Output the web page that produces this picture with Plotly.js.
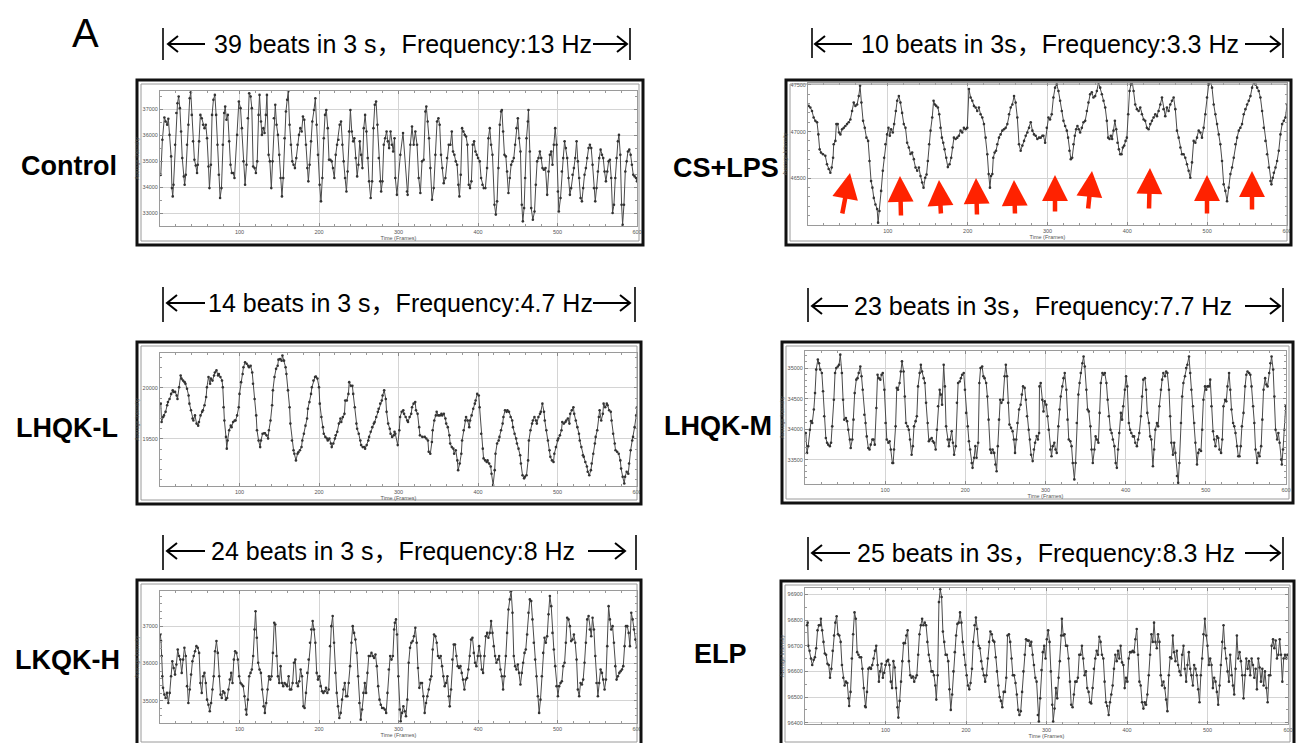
<!DOCTYPE html>
<html><head><meta charset="utf-8">
<script src="https://cdn.plot.ly/plotly-3.0.1.min.js"></script>
<style>html,body{margin:0;padding:0;background:#fff}#chart{width:1300px;height:743px}</style>
</head><body><div id="chart"></div>
<script>
// ---------- DATA (frame, average intensity) ----------
const ctrlX = [1,3,5.5,7,9,10.5,12,14,15,16,17,19,20.6,22,23.5,25,26.5,28,30,31,32.4,34,35.7,37.4,38.7,40,41.6,43.3,45,46.6,47.5,49.2,50.8,52.5,54.2,56,57.6,59.2,61,62.2,64,65.5,67.2,69,70.6,72.3,74,75.6,77.3,79,80.7,82,83.6,85.3,87,88.7,90.3,92,93.7,97,99.2,101.3,103,105,107,108.8,110.5,112.2,114,115.5,117.2,119,120.6,122.3,124,125.2,127,128.2,130,131.5,133.2,134.5,136.6,138.2,140,141.6,143.3,145,146.6,148.3,150,151.7,153.4,155,156.7,158.4,160,161.3,163,164.7,166.4,168,169.7,171.4,173,174.8,176.5,178.2,179.8,181.5,183.6,185.3,186.6,188.2,190,191.6,193.7,195.4,197,198.7,200.8,202.5,204.2,206,207.6,209.2,211,212.6,214.3,216,217.6,219.3,221,222.7,224.4,226,227.7,229.4,231,232.8,234.5,236,237.8,239.5,241.2,243,244.5,246.2,248,249.6,251.3,253,254.6,256.3,258,259.7,261.3,263,265,266.8,268.5,270.2,271.8,273.5,275.2,277,278.2,279.8,281.5,283.2,285,286.6,288.2,290,291.6,293.3,295,
296,298,302.3,305.7,310.7,311.5,314.9,317,319.1,321.2,323.3,325.4,327.5,329.6,331.7,333.8,335,336.7,338.4,340.1,342.2,344.3,346.4,348.5,350.2,351.8,353.5,355.2,356.9,359,361.1,363.2,365.3,367,368.6,370.3,372,373.7,375.3,376.6,378.3,380,381.6,383.3,385,386.7,388.4,390,391.7,393.4,395.1,396.8,398.4,400.1,402.2,403.9,405.6,407.2,409.3,411.4,413.1,414.8,416.5,418.2,420.7,422.4,424,425.7,427.4,429.1,430,431.6,433.3,435,436.6,438.3,440,441.7,443.4,445,446.7,448.4,450.1,451.7,453.4,455.1,456.4,458,459.3,461,462.7,463.5,465.2,466.9,469,471.1,472.7,474.4,476.1,477.8,479.5,481.1,482.8,484.9,487,488.7,490.4,492.1,493.7,495.4,497.1,498.8,500.5,501.7,503.8,505.5,507.2,508.9,510.5,512.2,513.9,515.6,517.2,518.9,520.6,522.3,524,525.6,527.3,529,530.7,532.3,534,535.7,537.4,539.1,540.7,542.4,544.1,545.8,547.5,549.1,550.8,552.5,554.2,555.9,557.5,559.2,560.9,562.6,564.3,565.9,567.6,569.3,571,572.7,574.3,576,577.3,579,580.6,581.9,583.6,585.3,587,588.6,590.3,592,593.6,595.3,597,598.7,600];
const ctrlY = [34470,35820,36680,36525,36400,36630,36010,35180,33960,33640,34090,35630,36850,37230,37490,37040,36140,35115,34410,34090,34475,35630,36400,37420,37650,36780,35760,35050,34830,34540,34860,35760,36780,36650,36400,36270,36400,35880,34790,33960,34860,36780,37360,37550,36780,35630,34475,33580,33960,35630,36850,37100,36590,36780,35760,34860,34540,34540,34350,36010,37295,37040,36270,34990,34090,34860,36650,37615,37490,37040,34790,34730,34540,34990,36780,37550,36525,36010,36270,36080,36780,37550,35240,34990,33960,34990,36650,37170,36400,36010,35240,34350,33640,34350,35880,36910,37360,37680,36400,35630,34990,34860,34730,35115,35630,36010,36270,36140,36720,36590,35630,34730,34220,34860,35760,36525,36970,37420,36400,35240,34090,33450,34350,35880,36780,36970,36270,35050,35050,34990,34730,34350,35240,35630,35820,36400,36525,35630,34990,34350,33830,34600,36140,36970,36140,35760,35880,35115,34410,34860,35760,35240,34730,36270,36780,36140,35115,34220,33580,34220,36270,37170,37295,36400,35115,34220,33830,34220,35630,35880,36140,35760,35500,36140,35630,35370,35880,
34350,33700,35240,36080,33830,33700,35630,36330,35630,36140,35630,34350,33770,34990,35050,36910,37100,36525,35880,34730,33510,33960,35240,36525,36650,36400,35240,34730,34150,34350,35115,35630,35630,36140,35370,35240,34990,34860,34090,33640,34475,36270,36140,36010,35950,35630,34090,33960,34220,35630,35760,35370,35240,35115,34990,34350,34090,33960,33960,34730,35880,36270,35630,35240,33320,32940,33450,34730,36400,36910,36970,36140,35240,35180,34600,33770,34350,34860,34990,35115,35630,36270,36650,35880,35370,33320,32680,33190,34350,35880,36525,36970,35370,33190,32740,33060,34090,34990,35115,35370,35115,34730,34670,34730,33700,34600,35240,35370,34860,35630,36270,35630,33830,33060,33580,34600,35115,35760,35500,35115,34350,33700,33960,34475,34730,35115,35760,34990,34350,33580,33450,33960,34475,34730,35115,35500,35630,35500,34860,33960,33450,33960,34600,35115,35440,35240,35115,34600,34220,34600,34990,35050,34350,33000,33320,34350,35115,35760,36010,35240,33320,32550,33320,34600,34990,35370,35440,35240,34860,34475,34410,34350,34220];

const lpsX = [0.8,2.9,5,7.1,9.2,11.3,13,14.6,16.3,18.8,21.7,23.8,25.9,28,29.7,31.4,32.2,34.3,35.5,37.2,38.9,40.6,42.7,44.8,46.8,48.9,51,53.1,55.2,57.3,59.4,61.5,63.6,65.2,66.9,69,71.1,73.2,75.3,77,79,80.7,82.4,84.5,86.6,87.8,89.5,91.6,93.7,95.4,97,99.1,100.8,102.5,104.1,106.2,107.9,110,111.7,113.8,115.8,117.9,120,122.1,124.2,126.3,128.4,130.5,132.6,134.7,136.8,138.9,140.9,143,144.7,146.8,148.5,150.1,151.8,153.5,155.6,157.3,158.9,160.6,162.7,164.4,166,167.7,169.4,171.1,173.2,175.2,177.3,179.4,181.1,182.8,184.9,187,189,191.1,193.2,195.3,197.4,199.5,201.6,203.7,205.8,207.9,210,212,214.1,216.2,218.3,220.4,222.5,224.6,226.3,227.9,229.2,230.9,232.1,233.8,235.5,237.1,239.2,241.3,243.4,245.5,247.6,249.7,251.8,253.9,256,258.1,260.1,262.2,264.3,266.4,268.5,270.6,272.7,274.8,276.9,279,281.1,283.1,285.2,287.3,289.4,291.5,293.6,
294.9,297,299.1,301.2,303.2,305.3,307.4,309.5,311.6,313.7,315.8,317.9,320,322.1,324.2,325.8,327.5,329.2,330.9,332.5,334.2,335.9,337.5,339.2,340.9,343,345.1,347.2,349.3,351.3,353.4,355.5,357.6,359.7,361.8,363.9,366,368.1,370.2,372.3,374.3,376,377.7,379.4,381,382.7,384.4,386.1,387.7,389.4,391.1,392.7,394.4,396.1,397.8,399.4,401.1,402.8,404.5,406.1,407.8,409.9,412,414.1,416.2,418.3,420.4,422.4,424.5,426.6,428.7,430.8,432.9,435,437.1,439.2,441.3,443.4,445.4,447.5,449.6,451.7,453.8,455.9,458,460.1,462.2,464.3,466.4,468.4,470.5,472.6,474.7,476.8,478.9,481,483.1,485.2,487.3,489.4,491.5,493.5,495.6,497.7,499.8,501.9,504,506.1,508.2,510.3,512.4,514.5,516.5,518.6,520.7,522.8,524.9,527,529.1,531.2,533.3,535.4,537.5,539.6,541.6,543.7,545.8,547.9,550,552.1,554.2,556.3,558.4,560.5,562.6,564.6,566.7,568.8,570.9,573,575.1,577.2,579.3,580.5,582.2,583.5,585.6,587.6,589.7,591.8,593.9,596,598.1,600];
const lpsY = [47275,47257,47220,47150,47115,47100,46970,46810,46775,46757,46740,46650,46600,46560,46615,46720,46865,46900,47080,47080,46990,46970,47025,47040,47060,47080,47100,47130,47220,47310,47275,47290,47380,47490,47310,47115,47040,46935,46900,46685,46470,46400,46290,46220,46170,46025,46150,46365,46580,46720,46865,46970,47040,46955,47025,46990,47080,47220,47330,47380,47310,47200,47080,47040,46880,46830,46760,46775,46705,46615,46580,46615,46525,46455,46400,46505,46540,46685,46865,47010,47150,47330,47290,47275,47257,47185,47040,46935,46880,46810,46720,46620,46650,46720,46830,46935,46920,46935,46955,47010,46990,47040,47025,47040,47455,47365,47330,47275,47257,47220,47257,47185,47150,47080,46935,46757,46545,46400,46525,46545,46720,46775,46795,46865,46935,46970,47010,47025,47040,47080,47185,47257,47290,47380,47310,47150,46865,46795,46850,46900,46955,46990,47040,47100,47010,46970,46955,46920,46935,46935,46955,
46955,46880,47040,47150,47130,47185,47365,47470,47505,47435,47330,47220,47115,47060,47010,46935,46795,46705,46720,46865,46955,47025,47060,47025,46990,47040,47100,47115,47220,47310,47400,47420,47365,47380,47435,47525,47470,47400,47330,47257,47115,46935,46920,46955,46920,47010,47115,47025,46880,46810,46757,46757,46830,46850,46900,46935,47185,47435,47505,47535,47435,47290,47240,47220,47257,47185,47130,47115,47040,47025,47080,47115,47150,47185,47165,47220,47290,47365,47240,47165,47257,47220,47290,47330,47365,47240,47010,46935,46830,46757,46757,46720,46650,46580,46505,46670,46900,46880,46935,47010,46990,46935,47040,47185,47365,47505,47540,47470,47290,47185,47080,46970,46865,46685,46435,46365,46255,46400,46545,46615,46720,46865,46935,47010,47040,47080,47185,47240,47290,47330,47380,47470,47535,47505,47470,47435,47365,47220,47040,46900,46757,46615,46470,46435,46505,46560,46615,46685,46795,46970,47080,47115,47150,47290];

const lowX = [1,2,4,5,7,9,10,12,14,16,17,19,21,22,24,26,27,29,31,32,34,36,37,39,41,42,44,46,48,49,51,53,54,56,58,59,61,63,64,66,68,69,71,73,74,76,78,79,80,81,83,84,85,87,89,90,92,94,95,97,99,100,102,104,105,107,109,111,112,114,116,117,119,121,122,124,126,127,129,131,132,134,136,137,139,141,142,144,146,148,149,151,153,154,156,158,159,161,163,164,166,168,169,171,173,174,176,178,179,181,183,185,186,188,190,191,193,195,196,198,200,201,203,205,206,208,210,211,213,215,216,218,220,221,223,225,227,228,230,232,233,235,237,238,240,242,243,245,247,248,250,252,253,255,257,258,260,262,263,265,267,269,270,272,274,275,277,279,280,282,284,285,287,289,290,292,294,295,
296,299,301,302,304,306,307,309,311,312,314,316,317,319,321,322,324,326,327,330,333,335,337,338,340,342,343,345,347,348,350,352,354,355,357,359,360,362,364,365,367,369,370,372,374,375,377,379,380,382,384,385,387,389,390,392,394,396,397,399,401,402,404,406,407,409,411,412,414,416,417,419,421,422,424,426,427,429,431,432,434,436,437,439,441,443,444,446,448,449,451,453,454,456,458,459,461,463,464,466,468,469,471,473,474,476,478,479,481,483,484,486,488,490,491,493,495,496,498,500,501,503,505,506,508,510,511,513,515,516,518,520,521,523,525,527,528,530,532,533,535,537,538,540,542,543,545,547,548,550,552,553,555,557,558,560,562,563,565,567,568,570,572,573,575,577,579,580,582,584,585,587,589,590,592,594,595,597,599,600];
const lowY = [19845,19665,19715,19730,19765,19830,19860,19890,19940,19975,19960,19960,19925,19890,20005,20120,20090,20070,20055,20040,19990,19925,19845,19780,19700,19680,19730,19650,19630,19665,19730,19765,19780,19830,19910,20005,20105,20040,20090,20070,20120,20150,20170,20120,20135,20105,20070,20005,19810,19680,19520,19405,19485,19585,19630,19615,19665,19680,19680,19730,19810,19940,20055,20135,20200,20250,20235,20215,20200,20215,20150,20040,19890,19730,19585,19485,19420,19485,19550,19555,19555,19535,19505,19585,19680,19830,19975,20105,20185,20215,20275,20280,20265,20315,20265,20200,20135,19975,19810,19650,19485,19390,19355,19290,19355,19370,19390,19420,19485,19550,19630,19700,19795,19860,19940,20005,20070,20105,20110,20090,20005,19845,19715,19615,19550,19520,19505,19485,19505,19455,19420,19455,19505,19535,19570,19650,19700,19665,19715,19745,19875,19875,19940,20055,20020,20020,19940,19810,19650,19600,19550,19485,19440,19420,19420,19405,19440,19485,19520,19570,19615,19650,19665,19715,19765,19795,19845,19875,19925,19975,19890,19765,19650,19600,19550,19520,19535,19570,
19550,19440,19585,19715,19765,19780,19745,19715,19680,19665,19715,19745,19810,19845,19860,19780,19745,19615,19535,19520,19520,19505,19485,19375,19355,19470,19585,19680,19730,19765,19730,19730,19745,19730,19745,19700,19650,19615,19535,19455,19420,19405,19355,19390,19290,19195,19260,19355,19485,19585,19680,19715,19680,19615,19680,19730,19795,19845,19875,19940,19925,19810,19550,19405,19310,19290,19275,19290,19260,19230,19160,19050,19195,19355,19455,19485,19520,19585,19650,19715,19780,19765,19780,19765,19715,19680,19615,19550,19505,19455,19405,19340,19260,19145,19115,19130,19145,19290,19485,19585,19650,19680,19715,19680,19650,19715,19745,19765,19845,19765,19680,19585,19485,19390,19325,19290,19275,19355,19420,19485,19505,19535,19585,19665,19650,19665,19680,19700,19650,19745,19780,19810,19745,19680,19615,19550,19485,19420,19340,19325,19275,19230,19180,19145,19195,19260,19355,19455,19520,19585,19715,19780,19680,19745,19845,19810,19845,19830,19780,19765,19680,19550,19455,19390,19375,19355,19290,19210,19130,19065,19130,19180,19160,19260,19390,19485,19520,19615,19730,19810];

const midX = [1,2.5,4,6,7.5,9,11,12.5,14,16,17.5,19,21,22.5,24,26,27.5,29,31,32.5,34,36,37.5,39,41,42.5,44,46,47.5,49,51,52.5,54,56,57,59,60.5,62,64,65.5,67,69,70.5,72,74,75.5,77,79,80.5,82,84,85.5,87,89,90.5,92,94,95.5,97,99,100.5,102,104,105.5,107,109,110,111,113,114.5,116,118,119.5,121,123,124.5,126,128,129.5,131,133,134.5,136,138,139.5,141,143,144.5,146,148,149.5,151,153,154.5,156,158,159.5,161,163,164.5,166,168,169.5,171,173,174.5,176,178,179.5,181,183,184.5,186,188,189.5,191,193,194.5,196,198,199.5,201,203,204.5,206,208,209,211,212.5,214,216,217.5,219,221,222.5,224,226,227.5,229,231,232.5,234,236,237.5,239,240.5,242,243.5,245,247,249,250.5,252,253.5,255,257,259,260.5,262,263.5,265,267,269,270.5,272,274,275.5,277,279,280.5,282,284,285.5,287,289,290.5,292,
292.5,294,296,297.5,299,301,302.5,304,306,307.5,309,311,312.5,314,316,317.5,319,321,322.5,324,326,327.5,329,331,332.5,334,336,337.5,339,341,342.5,344,346,347.5,349,351,352.5,354,356,357.5,359,361,362.5,364,366,367.5,369,371,372.5,374,376,377.5,379,381,382.5,384,386,387.5,389,390.5,392,394,395.5,397,399,400.5,402,404,405.5,407,409,410.5,412,414,415.5,417,419,420.5,422,424,425.5,427,429,430.5,432,434,435.5,437,439,440.5,442,444,445.5,447,449,450.5,452,454,455.5,457,459,460.5,462,464,465.5,467,469,470.5,472,474,475.5,477,479,480.5,482,484,485.5,487,489,490.5,492,494,495.5,497,499,500.5,502,504,505.5,507,509,510.5,512,514,515.5,517,519,520.5,522,524,525.5,527,529,530.5,532,534,535.5,537,539,540.5,542,543.5,545,547,549,550.5,552,554,555.5,557,559,560.5,562,564,565.5,567,569,570.5,572,574,575.5,577,579,580.5,582,584,585.5,587,589,590.5,592,594,594.8,596.3,598,599.6];
const midY = [33937,33610,33720,33990,34130,34100,34320,34590,34975,35140,35080,34975,34920,34620,34210,33855,33775,33745,33720,33775,34045,34480,34920,35000,35025,35055,35220,34920,34480,34155,34180,34130,33990,33830,33690,33830,34155,34590,34810,34835,34920,35025,34865,34645,34235,34100,33880,33690,33665,33745,33830,33830,33745,34345,34890,34835,34810,34890,34920,34645,34100,33830,33775,33800,33665,33445,33445,33665,34045,34675,34645,34755,34945,35110,34945,34535,34100,34045,33990,33830,33580,33720,34045,34130,34210,34700,34920,35055,34945,34835,34755,34430,34100,33800,33830,33855,33800,33775,33665,33990,34375,34645,34565,34400,35055,34700,34045,33830,33720,33830,33965,33775,33580,33720,34430,34755,34780,34835,34890,34920,34645,34265,34045,33800,33665,33445,33365,33530,33720,33530,33775,34755,35000,35025,34865,34835,34755,34535,34155,33665,33610,33665,33610,33420,33310,33720,34155,34480,34430,34480,34865,35055,34865,34430,34075,34020,33965,33830,33610,33830,34100,34320,34400,34565,34700,34675,34480,34210,33990,33830,33580,33475,33665,33775,33885,33830,33937,
34700,34755,34480,34290,34455,34400,34210,33990,33665,33555,33720,33775,33665,33610,34045,34320,34535,34700,34835,34920,34645,34155,33830,33800,33720,33445,33175,33445,34100,34565,34755,34920,35080,35190,35025,34645,34320,34290,34045,33665,33445,33665,33880,33830,33775,34265,34755,34920,34890,34920,34755,34480,34210,33990,33937,33830,33720,33445,33365,33665,33937,34265,34155,34375,34645,34865,34700,34100,33990,33937,33880,33880,33775,33720,33830,33937,34210,34535,34810,34835,34645,34265,34100,33880,33830,33390,33665,33990,34100,34045,34375,34645,34810,34920,34865,34945,34920,34645,34210,33775,33580,33775,33610,33230,33120,33445,34100,34535,34755,34865,35000,35055,35190,34920,34645,34375,34100,33775,33420,33610,33665,33640,33990,34480,34700,34645,34700,34700,34810,34375,33965,33830,33720,33880,33855,33665,33610,33830,34375,34480,34455,34700,34920,34645,34320,34100,34045,33937,33720,33555,33555,33720,34045,34265,34700,34890,34945,34920,34890,34700,34375,34100,33665,33445,33610,33555,33720,34155,34645,34835,34730,34700,34920,35080,35190,34975,34535,33990,33830,33937,33775,33500,33420,33665,33990,34375];

const highX = [0.4,1.3,2.1,2.9,3.8,5.5,7.1,8.8,10.5,12.2,13.9,15.5,17.2,18.9,20.6,22.3,23.9,25.6,27.3,29,30.7,32.4,34,35.7,37.4,39.1,40.8,42.4,44.1,45.8,47.5,49.2,50.8,52.5,54.2,55.9,57.6,59.2,60.9,62.6,64.3,66,67.6,69.3,71,72.7,74.4,76.1,77.7,79.4,81.1,82.8,84.5,86.1,87.8,89.5,91.2,92.9,94.5,96.2,97.9,99.6,101.3,102.9,104.6,106.3,108,108.8,110.5,112.2,113.9,115.5,117.2,118.9,120.2,121.8,123.5,125.2,126.9,128.6,130.3,131.9,133.6,135.3,137,138.7,140.3,142,143.7,145,146.6,148.3,150,151.7,153.4,155,156.7,158.4,160.1,161.8,163.4,165.1,166.8,168.5,170.2,171.8,173.5,175.2,176.9,178.6,180.3,181.9,183.6,185.3,187,188.7,190.3,192,193.7,195.4,197.1,198.7,200.4,202.1,203.8,205.5,207.1,208.8,210.5,212.2,213.9,215.5,217.2,218.9,220.6,222.3,223.9,225.6,227.3,229,230.7,232.4,234,235.7,237.4,239.1,240.8,242.4,244.1,245.8,247.5,249.2,250.8,252.5,254.2,255.9,257.6,259.2,260.9,262.6,264.3,266,267.6,269.3,271,272.7,274.4,276.1,277.7,279.4,281.1,282.8,284.5,286.1,287.8,289.5,291.2,292.9,294.5,295.4,
296.8,298.1,299.8,301.5,302.7,304.4,306.1,307.8,309.4,311.1,312.8,314.5,316.1,317.8,319.5,321.2,322.9,324.5,326.2,327.9,329.6,331.3,332.9,334.6,336.3,338,339.7,341.3,343,344.7,346.4,348.1,349.7,351.4,353.1,354.8,356.5,358.1,359.8,361.5,363.2,364.4,366.1,367.8,369.5,371.1,372.8,374.5,376.2,377.9,379.5,381.2,382.9,384.6,386.3,387.9,389.6,391.3,393,394.7,396.3,398,399.7,401.4,403.1,404.7,406.4,408.1,409.8,411.5,413.1,414.8,416.5,418.2,419.8,421.5,423.2,424.9,426.6,428.2,429.9,431.6,433.3,435,436.6,438.3,440,441.7,443.4,445,446.7,448.4,450.1,451.7,453.4,455.1,456.8,458.5,460.1,461.8,463.5,465.2,466.9,468.5,470.2,471.9,473.6,475.3,476.9,478.6,480.3,482,483.7,485.3,487,488.7,490.4,492.1,493.7,495.4,497.1,498.8,500.5,502.1,503.8,505.5,507.2,508.9,510.5,512.2,513.9,515.6,517.2,518.9,520.6,522.3,524,525.6,527.3,529,530.7,532.3,534,535.7,537.4,539.1,540.7,542.4,544.1,545.8,547.5,549.1,550.8,552.5,554.2,555.9,557.5,559.2,560.9,562.6,564.3,565.9,567.6,569.3,571,572.7,574.3,576,577.7,579.4,581.1,582.7,584.4,586.1,587.8,589.5,591.1,592.8,594.5,596.2,597.9,599.5];
const highY = [36775,36600,36200,35660,35350,35170,35080,35215,34945,35215,35660,36060,35880,35705,35975,36375,36200,36105,35750,36105,36420,36200,35395,34945,35305,35705,36060,36200,36330,36465,36420,36285,35480,35215,35660,35750,35480,35035,34900,34725,34945,35305,35660,36330,36600,36285,35660,35170,35080,35260,35215,35035,35080,35305,35570,35750,35480,36105,36330,36285,36105,35660,35480,35440,35395,35125,34770,34635,35035,35660,35750,35840,36200,36910,37400,36690,36020,35840,35750,35305,34855,34680,34945,35305,35660,35570,35660,36285,37090,37045,36200,35660,35480,35930,35480,35395,35480,35440,35395,35660,35305,35305,35480,36020,36105,35480,35395,35525,35840,35660,34855,34810,35215,35750,36105,36555,36910,37135,36910,36555,35750,35570,35660,35395,35260,35215,35260,35350,35215,35305,36465,37000,37270,36555,35750,35215,34855,34545,34680,35035,35305,35480,35125,35125,35480,35930,36555,37000,36820,36640,36285,35660,34945,34500,34770,35215,35480,35215,35750,36200,36200,36285,36200,36150,36240,35930,35395,35035,34900,34810,34810,34770,34680,35215,35840,36200,36105,36200,36910,37090,
37180,36775,35660,34770,34455,34680,34855,34725,34590,35035,36020,36420,36555,36600,36730,36955,36555,35880,35350,35480,35480,35125,34680,34945,35125,35305,35570,35660,36375,36775,36730,36555,36200,36150,36200,35930,35660,35395,35480,35660,35125,34855,35305,36105,36510,36510,36200,35930,35880,35930,35750,35570,35305,35570,35615,35840,36200,36640,36690,36285,36020,35930,36200,36465,36200,35840,35750,36200,36730,36820,36690,36820,37135,36820,36465,36200,36020,36105,36200,35840,35660,35305,35660,36200,36820,37445,37715,37940,37360,36200,35930,35840,35975,35750,35440,35750,36020,36285,36375,36775,37360,37715,37670,37180,36555,36105,35660,35125,34680,35035,35660,36285,36690,36555,36730,37315,37805,37535,36820,36375,35930,35395,35125,35395,35480,35525,35930,36020,36555,37225,37180,37000,36600,36640,36775,36555,36105,35305,35125,35480,35440,35570,36020,36555,37180,37270,36910,36730,37225,36910,36200,35480,35125,35480,35840,35750,35570,35305,35570,36465,37535,37180,36910,37000,36555,35930,35570,35660,35750,35795,35840,35930,36465,37000,37000,36820,36465,37360,37180,36910,36640,36420];

const elpX = [2.5,3.3,4.1,5.7,7.4,9,10.7,12.3,13.9,15.6,17.2,18.9,19.7,21.3,23,24.6,26.2,27.9,29.5,31.1,32.8,34.4,36.1,37.7,39.3,41,42.6,44.3,45.9,47.5,49.2,50.8,52.5,54.1,54.9,56.6,58.2,59.8,61.5,63.1,64.8,66.4,68,69.7,71.3,73,74.6,75.4,77,78.7,80.3,82,83.6,85.2,86.9,88.5,90.2,91.8,93.4,95.1,96.7,98.4,100,101.6,103.3,104.9,106.6,108.2,109.8,111.5,113.1,114.8,116,117.6,119.3,120.9,122.5,124.2,125.8,127.5,129.1,130.7,132.4,134,135.7,137.3,138.9,140.6,142.2,143.9,145.5,147.1,148.8,150.4,152,153.7,155.3,157,158.6,160.2,161.9,163.1,164.8,166.4,168,169.7,171.3,173,174.6,176.2,177.9,179.5,181.1,182.8,184.4,186.1,187.7,189.3,191,192.6,194.3,195.9,197.5,199.2,200.8,202.5,204.1,205.7,207.4,209,210.7,212.3,213.9,215.6,217.2,218.9,220.5,222.1,223.8,225.4,227,228.7,230.3,232,233.6,235.2,236.9,238.5,240.2,241.8,243.4,245.1,246.7,248.4,250,251.6,253.3,254.9,256.6,258.2,259.8,261.5,263.1,264.8,266.4,268,269.7,271.3,273,274.6,276.2,277.9,279.5,281.1,282.8,284.4,286.1,287.7,289.3,
290.5,292.1,293.8,295.5,297.1,298.8,300.4,302.1,303.8,305.4,307.1,308.3,310,311.6,313.3,315,316.6,318.3,319.1,320.8,322.4,324.1,325.7,327.4,329.1,330.7,332.4,334,335.7,337.4,339,340.7,342.3,344,345.7,347.3,349,350.6,352.3,354,355.6,357.3,358.9,360.6,362.3,363.9,365.6,367.2,368.9,370.6,372.2,373.9,375.5,377.2,378.9,380.5,382.2,383.8,385.5,387.2,388.8,390.5,392.1,393.8,395.5,397.1,398.8,400.4,402.1,403.8,405.4,407.1,408.7,410.4,412.1,413.7,415.4,417,418.7,420.4,422,423.7,425.3,427,428.7,430.3,432,433.6,435.3,437,438.6,440.3,441.9,443.6,445.3,446.9,448.6,450.2,451.9,453.6,455.2,456.9,458.5,460.2,461.9,463.5,465.2,466.8,468.5,470.2,471.8,473.5,475.1,476.8,478.5,480.1,481.8,483.4,485.1,486.7,488.4,490.1,491.7,493.4,495,496.7,498.4,500,501.7,503.3,505,506.7,508.3,510,511.6,513.3,515,516.6,518.3,519.9,521.6,523.3,524.9,526.6,528.2,529.9,531.6,533.2,534.9,536.5,538.2,539.9,541.5,543.2,544.8,546.5,548.2,549.8,551.5,553.1,554.8,556.5,558.1,559.8,561.4,563.1,564.8,566.4,568.1,569.7,571.4,573.1,574.7,576.4,578,579.7,581.4,583,584.7,586.3,588,589.7,591.3,593,594.6,596.3,598,599.2];
const elpY = [96780,96790,96700,96680,96650,96625,96645,96655,96690,96760,96780,96780,96805,96760,96715,96670,96665,96630,96625,96575,96610,96680,96740,96790,96815,96745,96740,96715,96625,96575,96545,96560,96555,96495,96465,96520,96650,96745,96830,96805,96675,96665,96655,96655,96610,96535,96465,96460,96520,96610,96615,96610,96625,96650,96680,96700,96625,96560,96600,96630,96575,96595,96625,96640,96645,96625,96560,96535,96640,96615,96535,96460,96420,96485,96560,96640,96710,96710,96740,96760,96640,96585,96575,96580,96560,96575,96585,96665,96745,96780,96805,96780,96790,96780,96715,96665,96640,96600,96600,96585,96545,96490,96585,96870,96920,96890,96755,96715,96665,96665,96640,96530,96450,96510,96600,96675,96740,96785,96790,96830,96790,96715,96665,96625,96585,96545,96530,96555,96610,96715,96780,96810,96765,96700,96690,96640,96610,96585,96560,96585,96650,96715,96755,96745,96720,96715,96655,96600,96545,96500,96485,96460,96520,96520,96575,96740,96745,96715,96650,96585,96585,96555,96510,96450,96430,96445,96520,96600,96665,96725,96720,96720,96700,96715,96665,96625,96575,96560,96430,
96405,96495,96605,96675,96700,96650,96725,96760,96715,96600,96470,96405,96455,96535,96495,96575,96640,96740,96805,96740,96745,96700,96700,96650,96560,96470,96460,96510,96560,96560,96575,96665,96665,96700,96650,96585,96600,96535,96520,96480,96475,96535,96610,96650,96680,96665,96735,96715,96665,96650,96560,96480,96465,96430,96480,96510,96545,96610,96665,96640,96680,96650,96700,96635,96625,96535,96575,96560,96650,96675,96675,96680,96675,96725,96765,96665,96560,96545,96480,96455,96480,96470,96510,96585,96665,96745,96715,96790,96715,96690,96745,96715,96585,96545,96560,96535,96490,96445,96585,96655,96650,96740,96675,96640,96680,96625,96600,96585,96665,96700,96610,96560,96625,96675,96610,96585,96545,96625,96610,96585,96530,96480,96585,96650,96745,96805,96740,96700,96625,96650,96625,96535,96575,96560,96520,96470,96545,96625,96715,96780,96690,96650,96600,96560,96665,96585,96545,96510,96610,96740,96650,96675,96640,96585,96495,96585,96650,96610,96640,96585,96650,96625,96575,96610,96530,96650,96615,96560,96610,96545,96600,96535,96480,96585,96585,96700,96725,96690,96720,96650,96665,96725,96665,96560,96650,96665,96650,96665];

const groupNames = ['Control','CS+LPS','LHQK-L','LHQK-M','LKQK-H','ELP'];
const beatTexts = ['39 beats in 3 s，Frequency:13 Hz','10 beats in 3s，Frequency:3.3 Hz','14 beats in 3 s，Frequency:4.7 Hz','23 beats in 3s，Frequency:7.7 Hz','24 beats in 3 s，Frequency:8 Hz','25 beats in 3s，Frequency:8.3 Hz'];
const xTicks = [100,200,300,400,500,600];
const yTicks = [[33000,34000,35000,36000,37000],[46500,47000,47500],[19500,20000],[33500,34000,34500,35000],[35000,36000,37000],[96400,96500,96600,96700,96800,96900]];
const series = [[ctrlX,ctrlY],[lpsX,lpsY],[lowX,lowY],[midX,midY],[highX,highY],[elpX,elpY]];

// ---------- LAYOUT (pixel positions in the 1300x743 page) ----------
const W = 1300, H = 743;
const fx = p => p / W, fy = p => 1 - p / H;
const FONT = 'Liberation Sans, Arial, Noto Sans CJK SC, sans-serif';
const geo = [
  {plot:[160,637,91,226],  yr:[32500,37700], frame:[137,643,80,245],  lab:[69,166],  ttl:{cx:403,cy:44,bl:163,br:630,by:[28,60],la:[168,205],ra:[593,627]}},
  {plot:[808,1287,83,225], yr:[46000,47520], frame:[786,1291,80,245], lab:[726,168], ttl:{cx:1050,cy:44,bl:812,br:1283,by:[28,58],la:[815,852],ra:[1245,1280]}},
  {plot:[160,637,353,486], yr:[19040,20340], frame:[137,641,342,504], lab:[67,428],  ttl:{cx:400,cy:303,bl:163,br:635,by:[287,322],la:[167,205],ra:[593,630]}},
  {plot:[805,1286,351,484],yr:[33100,35280], frame:[782,1293,342,503],lab:[718,426], ttl:{cx:1043,cy:306,bl:808,br:1283,by:[288,322],la:[812,848],ra:[1245,1280]}},
  {plot:[160,637,591,723], yr:[34410,37940], frame:[137,641,580,746], lab:[67,660],  ttl:{cx:393,cy:551,bl:163,br:636,by:[535,570],la:[167,205],ra:[588,625]}},
  {plot:[805,1288,588,724],yr:[96395,96925], frame:[781,1294,581,746],lab:[720,654], ttl:{cx:1046,cy:553,bl:808,br:1283,by:[537,570],la:[812,850],ra:[1245,1280]}}
];
const redArrows = [[850,173,-8,42],[900,176,1,41],[939,180,2,35],[976,178,1,38],[1014,180,1,35],[1055,175,0,38],[1092,171,-4,39],[1150,168,-1,42],[1207,175,0,40],[1252,171,0,40]];

const data = [], shapes = [], annotations = [];
const layout = {width:W, height:H, margin:{l:0,r:0,t:0,b:0}, paper_bgcolor:'#fff', plot_bgcolor:'#fff', showlegend:false, font:{family:FONT}};
const P = (x,y) => fx(x).toFixed(5)+','+fy(y).toFixed(5);

geo.forEach((g,i) => {
  const n = i === 0 ? '' : String(i+1);
  data.push({x:series[i][0], y:series[i][1], xaxis:'x'+n, yaxis:'y'+n, type:'scatter', mode:'lines+markers',
    line:{color:'#4a4a4a', width:1}, marker:{size:2.6, color:'#333'}, hoverinfo:'skip', cliponaxis:true});
  const common = {showline:true, mirror:'allticks', linecolor:'#9a9a9a', linewidth:1, showgrid:true, gridcolor:'#d4d4d4', gridwidth:1,
    zeroline:false, ticks:'inside', ticklen:3, tickcolor:'#888', tickfont:{size:5.5, color:'#555', family:FONT},
    minor:{ticks:'inside', ticklen:2, tickcolor:'#999', showgrid:false}, fixedrange:true};
  layout['xaxis'+n] = Object.assign({}, common, {domain:[fx(g.plot[0]), fx(g.plot[1])], range:[0,600], anchor:'y'+n,
    tickvals:xTicks, minor:Object.assign({}, common.minor, {dtick:20, tick0:0}),
    title:{text:'Time (Frames)', font:{size:5.5, color:'#555'}, standoff:1}});
  layout['yaxis'+n] = Object.assign({}, common, {domain:[fy(g.plot[3]), fy(g.plot[2])], range:g.yr, anchor:'x'+n,
    tickvals:yTicks[i], tickformat:'d',
    title:{text:'Average Intensity', font:{size:5.5, color:'#555'}, standoff:2}});
  // panel frame (thick outer line + thin inner line)
  const f = g.frame;
  shapes.push({type:'rect', xref:'paper', yref:'paper', x0:fx(f[0]), x1:fx(f[1]), y0:fy(f[3]), y1:fy(f[2]), line:{color:'#111', width:3}});
  shapes.push({type:'rect', xref:'paper', yref:'paper', x0:fx(f[0]+4), x1:fx(f[1]-4), y0:fy(f[3]-4), y1:fy(f[2]+4), line:{color:'#9a9a9a', width:1}});
  // group label
  annotations.push({xref:'paper', yref:'paper', x:fx(g.lab[0]), y:fy(g.lab[1]), text:'<b>'+groupNames[i]+'</b>', showarrow:false,
    xanchor:'center', yanchor:'middle', font:{size:27, color:'#000', family:FONT}});
  // beat title with bracket arrows
  const t = g.ttl;
  annotations.push({xref:'paper', yref:'paper', x:fx(t.cx), y:fy(t.cy), text:beatTexts[i], showarrow:false,
    xanchor:'center', yanchor:'middle', font:{size:25, color:'#000', family:FONT}});
  [t.bl, t.br].forEach(bx => shapes.push({type:'line', xref:'paper', yref:'paper', x0:fx(bx), x1:fx(bx), y0:fy(t.by[0]), y1:fy(t.by[1]), line:{color:'#000', width:1.6}}));
  const la = t.la, ra = t.ra, cy = t.cy;
  shapes.push({type:'path', xref:'paper', yref:'paper', line:{color:'#000', width:2},
    path:'M'+P(la[1],cy)+' L'+P(la[0],cy)+' M'+P(la[0]+10,cy-8)+' L'+P(la[0],cy)+' L'+P(la[0]+10,cy+8)});
  shapes.push({type:'path', xref:'paper', yref:'paper', line:{color:'#000', width:2},
    path:'M'+P(ra[0],cy)+' L'+P(ra[1],cy)+' M'+P(ra[1]-10,cy-8)+' L'+P(ra[1],cy)+' L'+P(ra[1]-10,cy+8)});
});

annotations.push({xref:'paper', yref:'paper', x:fx(85), y:fy(33), text:'A', showarrow:false, xanchor:'center', yanchor:'middle',
  font:{size:40, color:'#000', family:FONT}});
redArrows.forEach(a => annotations.push({xref:'paper', yref:'paper', x:fx(a[0]), y:fy(a[1]), ax:a[2], ay:a[3], text:'', showarrow:true,
  arrowcolor:'#ff2200', arrowwidth:4.5, arrowhead:2, arrowsize:1.15, standoff:0, startstandoff:0}));

layout.shapes = shapes;
layout.annotations = annotations;
Plotly.newPlot('chart', data, layout, {staticPlot:true, displayModeBar:false});
</script>
</body></html>
